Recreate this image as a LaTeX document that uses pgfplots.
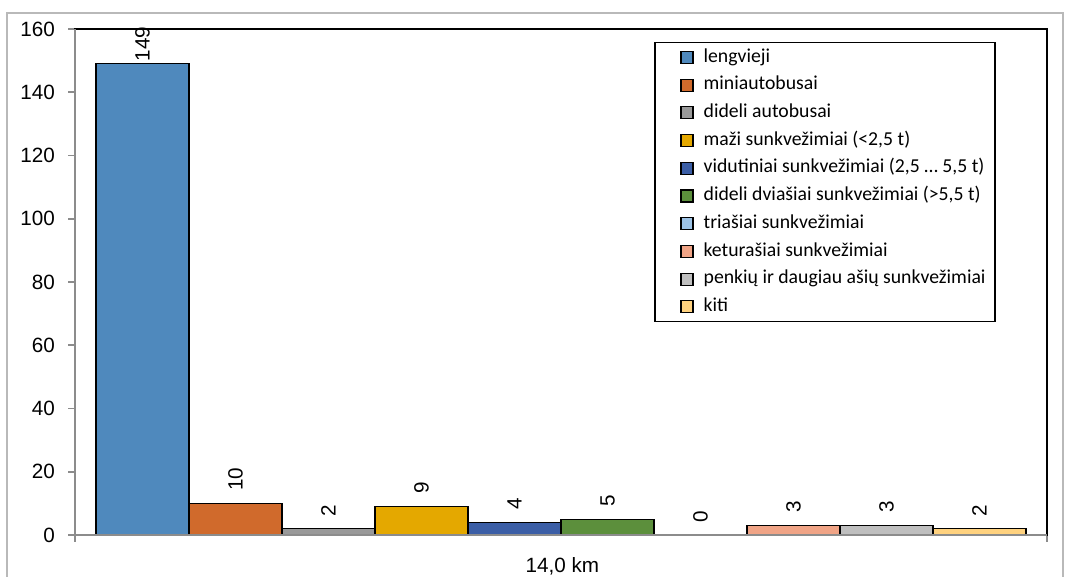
\documentclass[border=0pt]{standalone}
\usepackage{fontspec}
\setmainfont{Liberation Sans}
\newfontfamily\carlito{Carlito}
\usepackage{pgfplots}
\pgfplotsset{compat=1.18}

\definecolor{c1}{HTML}{4F89BD}
\definecolor{c2}{HTML}{D06A2C}
\definecolor{c3}{HTML}{999999}
\definecolor{c4}{HTML}{E4A800}
\definecolor{c5}{HTML}{3B5EA6}
\definecolor{c6}{HTML}{5C8F3C}
\definecolor{c7}{HTML}{9DC3E6}
\definecolor{c8}{HTML}{F0A486}
\definecolor{c9}{HTML}{BFBFBF}
\definecolor{c10}{HTML}{FFD27F}
\definecolor{axgray}{HTML}{8C8C8C}

\begin{document}
\begin{tikzpicture}
\useasboundingbox (0,0) rectangle (798.75pt,432.75pt);
\draw[gray!55, line width=1.2pt] (5.25pt,-5pt) -- (5.25pt,423pt) -- (797.25pt,423pt) -- (797.25pt,-5pt);
\begin{axis}[
  at={(56.25pt,31.5pt)}, anchor=south west,
  scale only axis, width=729pt, height=379.5pt,
  ybar=0pt, bar width=69.75pt,
  xmin=-1, xmax=1, ymin=0, ymax=160,
  ytick={0,20,...,160},
  xtick={-1,1}, xticklabels={},
  extra x ticks={0.003}, extra x tick labels={{14{,}0 km}},
  extra x tick style={tick style={draw=none}},
  xticklabel style={yshift=-8.5pt},
  xtick pos=bottom, ytick pos=left,
  tick align=outside, major tick length=5pt,
  tick style={axgray, line width=1.2pt},
  axis line style={black, line width=1.2pt},
  tick label style={font=\fontsize{15.5}{18}\selectfont},
  yticklabel style={xshift=-6.5pt},
  /pgf/number format/assume math mode=true,
  clip=false,
  nodes near coords,
  every node near coord/.append style={rotate=90, anchor=west,
    font=\fontsize{15.5}{18}\selectfont, inner xsep=9pt},
  legend style={at={(0.596,0.974)}, anchor=north west, draw=black,
    line width=1pt, font=\carlito\fontsize{14.8}{16}\selectfont,
    inner xsep=5pt, inner ysep=0.5pt,
    nodes={text height=10pt, text depth=3pt, inner ysep=3.9pt}},
  legend cell align=left,
  legend image code/.code={\path (-14pt,0pt) (14.5pt,0pt);
    \draw[#1, draw=black, line width=0.8pt] (0pt,-4.5pt) rectangle (9pt,4.5pt);},
]
\addplot[fill=c1, draw=black, line width=1pt,
  every node near coord/.append style={inner xsep=1.5pt}] coordinates {(0,149)};
\addlegendentry{lengvieji}
\addplot[fill=c2, draw=black, line width=1pt] coordinates {(0,10)};
\addlegendentry{miniautobusai}
\addplot[fill=c3, draw=black, line width=1pt] coordinates {(0,2)};
\addlegendentry{dideli autobusai}
\addplot[fill=c4, draw=black, line width=1pt] coordinates {(0,9)};
\addlegendentry{maži sunkvežimiai (<2,5 t)}
\addplot[fill=c5, draw=black, line width=1pt] coordinates {(0,4)};
\addlegendentry{vidutiniai sunkvežimiai (2,5 … 5,5 t)}
\addplot[fill=c6, draw=black, line width=1pt] coordinates {(0,5)};
\addlegendentry{dideli dviašiai sunkvežimiai (>5,5 t)}
\addplot[fill=c7, draw=black, line width=1pt] coordinates {(0,0)};
\addlegendentry{triašiai sunkvežimiai}
\addplot[fill=c8, draw=black, line width=1pt] coordinates {(0,3)};
\addlegendentry{keturašiai sunkvežimiai}
\addplot[fill=c9, draw=black, line width=1pt] coordinates {(0,3)};
\addlegendentry{penkių ir daugiau ašių sunkvežimiai}
\addplot[fill=c10, draw=black, line width=1pt] coordinates {(0,2)};
\addlegendentry{kiti}
\draw[axgray, line width=1.5pt] (rel axis cs:0,0) -- (rel axis cs:1,0);
\draw[axgray, line width=1.5pt] (rel axis cs:0,1) -- (rel axis cs:0,0) -- ++(0pt,-4pt);
\end{axis}
\end{tikzpicture}
\end{document}
